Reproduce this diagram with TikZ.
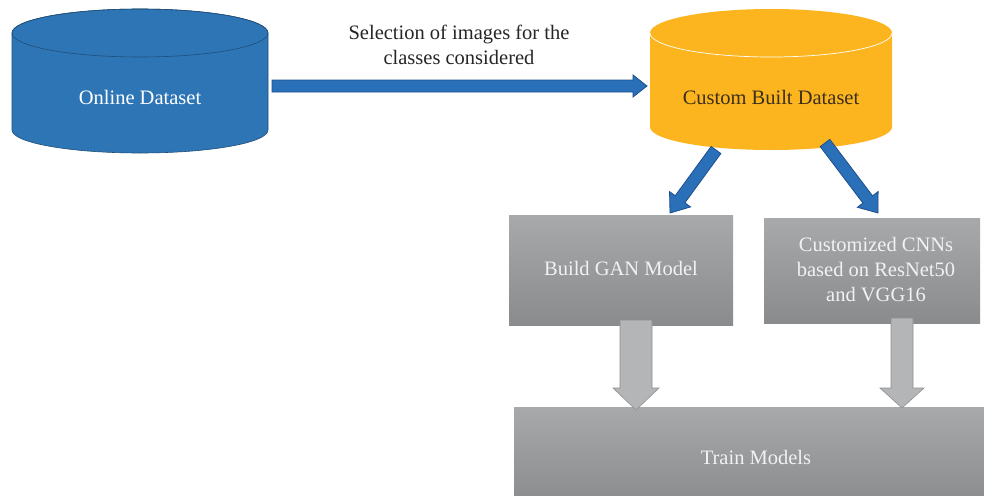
\documentclass[tikz,border=0pt]{standalone}
\usepackage{fontspec}
\setmainfont{Liberation Serif}
\usetikzlibrary{calc}
\definecolor{cylblue}{HTML}{2E75B6}
\definecolor{cylblueedge}{HTML}{1F4E79}
\definecolor{cylyellow}{HTML}{FCB51E}
\definecolor{arrblue}{HTML}{2A70B8}
\definecolor{arrblueedge}{HTML}{1F4E8C}
\definecolor{boxtop}{HTML}{A7A9AB}
\definecolor{boxbot}{HTML}{8A8B8D}
\definecolor{garrow}{HTML}{B4B5B7}
\definecolor{garrowedge}{HTML}{8F9092}
\definecolor{ytext}{HTML}{3B2F1C}
\newcommand\blockarrow[6]{%
  \path let \p1=($(#3)-(#2)$) in \pgfextra{\pgfmathsetmacro\BAtmpa{atan2(\y1,\x1)}\pgfmathsetmacro\BAtmpl{veclen(\x1,\y1)}\xdef\BAang{\BAtmpa}\xdef\BAlen{\BAtmpl}};
  \begin{scope}[shift={(#2)},rotate=\BAang,x=1pt,y=1pt]
    \draw[#1] (0,-#4) -- ({\BAlen-#6},-#4) -- ({\BAlen-#6},-#5) -- (\BAlen,0) -- ({\BAlen-#6},#5) -- ({\BAlen-#6},#4) -- (0,#4) -- cycle;
  \end{scope}}
\tikzset{
  txt/.style={font=\fontsize{20.5}{25}\selectfont, align=center, inner sep=0pt},
  bluearrow/.style={fill=arrblue, draw=arrblueedge, line width=0.8pt, line join=miter},
  grayarrow/.style={fill=garrow, draw=garrowedge, line width=0.6pt},
  graybox/.style={top color=boxtop, bottom color=boxbot, draw=none}
}
\begin{document}
\begin{tikzpicture}[x=1pt,y=-1pt]
\clip (0,0) rectangle (984,495);
\fill[white] (0,0) rectangle (984,495);
% Online dataset cylinder
\filldraw[fill=cylblue, draw=cylblueedge, line width=0.6pt]
  (12,33) -- (12,130) arc[start angle=180, end angle=360, x radius=128, y radius=-23]
  -- (268,33) arc[start angle=0, end angle=180, x radius=128, y radius=-24] -- cycle;
\draw[cylblueedge, line width=0.6pt] (140,33) ellipse[x radius=128, y radius=24];
\node[txt, text=white] (online) at (140,97) {Online Dataset};
% Custom built dataset cylinder
\fill[cylyellow]
  (650,33) -- (650,127) arc[start angle=180, end angle=360, x radius=121, y radius=-23]
  -- (892,33) arc[start angle=0, end angle=180, x radius=121, y radius=-24] -- cycle;
\draw[white, line width=0.7pt] (650,33) arc[start angle=180, end angle=360, x radius=121, y radius=-24];
\node[txt, text=ytext] (custom) at (771,97) {Custom Built Dataset};
% label
\node[txt, text=black!85] (sel) at (459,45) {Selection of images for the\\classes considered};
% main arrow
\coordinate (m1) at (272,86);
\coordinate (m2) at (647,86);
\blockarrow{bluearrow}{m1}{m2}{6}{11}{14}
% boxes
\fill[graybox] (509,215) rectangle (733,325);
\node[txt, text=white!95!black] (gan) at (621,268) {Build GAN Model};
\fill[graybox] (764,218) rectangle (980,323);
\node[txt, text=white!95!black] (cnn) at (876,270) {Customized CNNs\\based on ResNet50\\and VGG16};
\fill[graybox] (514,407) rectangle (1000,505);
\node[txt, text=white!95!black] (train) at (756,457) {Train Models};
% diagonal arrows
\coordinate (d1s) at (716,150);
\coordinate (d1e) at (670,213);
\coordinate (d2s) at (825,143);
\coordinate (d2e) at (878,213);
\blockarrow{bluearrow}{d1s}{d1e}{6}{13}{17}
\blockarrow{bluearrow}{d2s}{d2e}{6}{13}{17}
% gray down arrows
\coordinate (g1s) at (636,320);
\coordinate (g1e) at (636,410);
\coordinate (g2s) at (902,318);
\coordinate (g2e) at (902,408);
\blockarrow{grayarrow}{g1s}{g1e}{16}{23}{22}
\blockarrow{grayarrow}{g2s}{g2e}{11}{22}{20}
\end{tikzpicture}
\end{document}
